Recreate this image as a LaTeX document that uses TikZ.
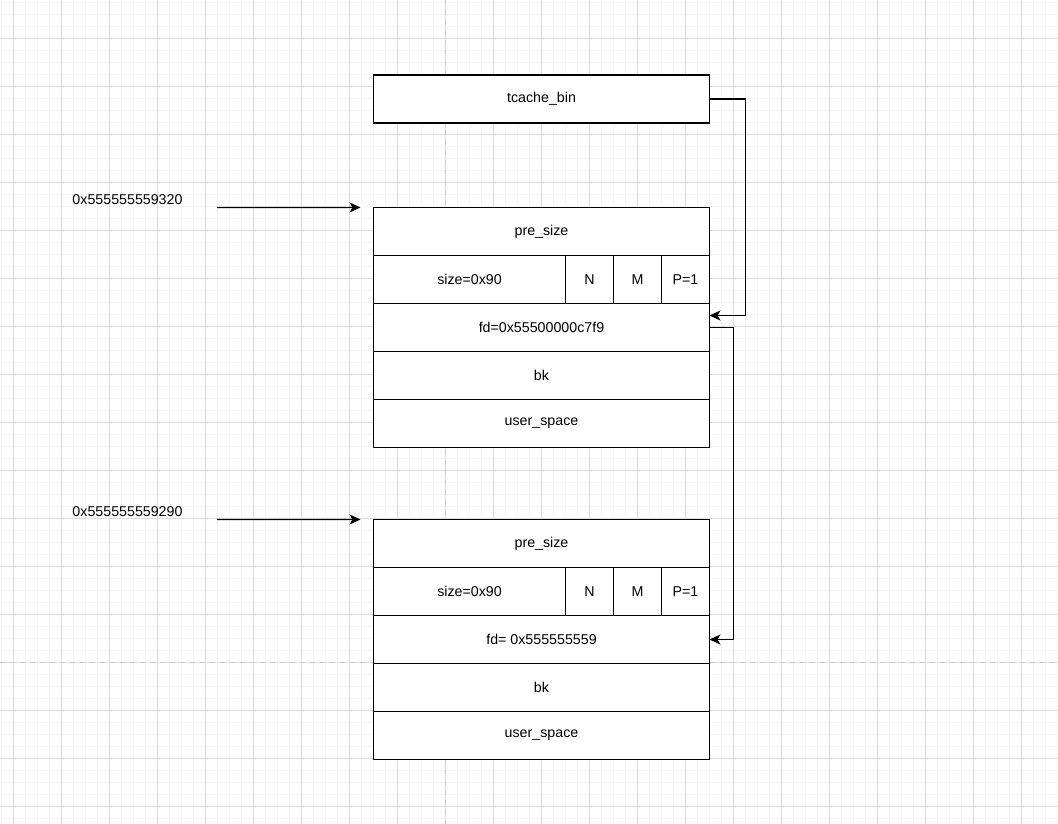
\documentclass[tikz,border=0pt]{standalone}
\usepackage{fontspec}
\setmainfont{Liberation Sans}
\usetikzlibrary{positioning,arrows.meta,calc}
\definecolor{gridMinor}{HTML}{F6F6F6}
\definecolor{gridMajor}{HTML}{DDDDDD}
\definecolor{pageGray}{HTML}{C8C8C8}

\begin{document}
\begin{tikzpicture}[x=0.2mm, y=-0.2mm, line width=0.6pt]
    \fontsize{8.1}{9.7}\selectfont

    % Shapes
    \tikzstyle{cell}=[rectangle, draw, fill=white, minimum height=9.6mm, inner sep=0pt, outer sep=0pt, align=center]
    \tikzstyle{row}=[cell, minimum width=67.2mm]
    \tikzstyle{sizecell}=[cell, minimum width=38.4mm]
    \tikzstyle{flag}=[cell, minimum width=9.6mm]
    \tikzstyle{link}=[-{Stealth[length=2.2mm, width=2mm, inset=0.6mm]}]

    \useasboundingbox (0,0) rectangle (1058,824);
    \fill[white] (0,0) rectangle (1058,824);

    % Grid
    \foreach \gx in {1.3,13.3,...,1058} \draw[gridMinor, line width=0.4pt] (\gx,0) -- (\gx,824);
    \foreach \gy in {2.3,14.3,...,824} \draw[gridMinor, line width=0.4pt] (0,\gy) -- (1058,\gy);
    \foreach \gx in {13.3,61.3,...,1058} \draw[gridMajor, line width=0.4pt] (\gx,0) -- (\gx,824);
    \foreach \gy in {38.3,86.3,...,824} \draw[gridMajor, line width=0.4pt] (0,\gy) -- (1058,\gy);
    \draw[pageGray, dash pattern=on 1mm off 1mm] (445.7,0) -- (445.7,824);
    \draw[pageGray, dash pattern=on 1mm off 1mm] (0,662.3) -- (1058,662.3);

    % Bin
    \node[row] at (541.5,99) (bin) {tcache\_bin};

    % Chunk 1
    \node[row] at (541.5,231.5) (preA) {pre\_size};
    \node[sizecell, below right=0pt and 0pt of preA.south west] (sizeA) {size=0x90};
    \node[flag, right=0pt of sizeA] (nA) {N};
    \node[flag, right=0pt of nA] (mA) {M};
    \node[flag, right=0pt of mA] (pA) {P=1};
    \node[row, below right=0pt and 0pt of sizeA.south west] (fdA) {fd=0x55500000c7f9};
    \node[row, below=0pt of fdA] (bkA) {bk};
    \node[row, below=0pt of bkA] (userA) {user\_space};

    % Chunk 2
    \node[row] at (541.5,543.5) (preB) {pre\_size};
    \node[sizecell, below right=0pt and 0pt of preB.south west] (sizeB) {size=0x90};
    \node[flag, right=0pt of sizeB] (nB) {N};
    \node[flag, right=0pt of nB] (mB) {M};
    \node[flag, right=0pt of mB] (pB) {P=1};
    \node[row, below right=0pt and 0pt of sizeB.south west] (fdB) {fd= 0x555555559};
    \node[row, below=0pt of fdB] (bkB) {bk};
    \node[row, below=0pt of bkB] (userB) {user\_space};

    % Addresses
    \node at (127.5,200) (addrA) {0x555555559320};
    \node at (127.5,512) (addrB) {0x555555559290};
    \coordinate (addrAtail) at (217,207.5);
    \coordinate (addrBtail) at (217,519.5);
    \draw[link, shorten >=2.6mm] (addrAtail) -- (preA.north west);
    \draw[link, shorten >=2.6mm] (addrBtail) -- (preB.north west);

    % Links
    \coordinate (fdAin) at ($(fdA.north east)+(0,12)$);
    \draw[link] (bin.east) -- ++(36,0) |- (fdAin);
    \draw[link] (fdA.east) -- ++(24,0) |- (fdB.east);
\end{tikzpicture}
\end{document}
